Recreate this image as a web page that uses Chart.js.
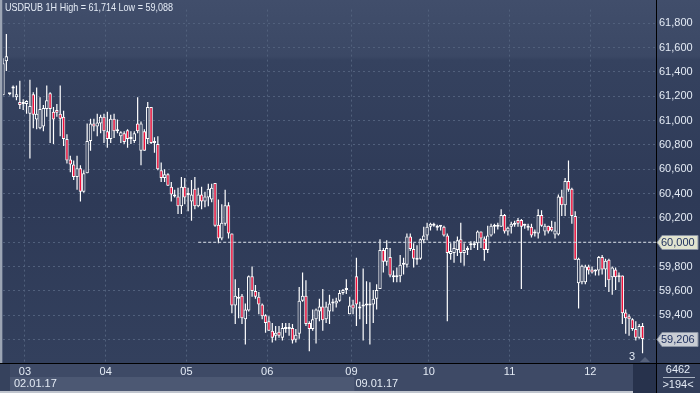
<!DOCTYPE html>
<html>
<head>
<meta charset="utf-8">
<title>USDRUB 1H</title>
<script src="https://cdn.jsdelivr.net/npm/chart.js@4.4.1/dist/chart.umd.min.js"></script>
<style>
  html, body { margin: 0; padding: 0; background: #2f3b58; }
  #wrap { width: 700px; height: 393px; }
</style>
</head>
<body>
<div id="wrap"><canvas id="chart" width="700" height="393"></canvas></div>
<script>
// USDRUB, 1 hour bars, 02.01.17 .. 12.01.17 (one entry per bar)
const opens = [
  61208, 61488, 61216, 61264, 61192, 61152, 61136,
  61136, 61056, 61216, 61008, 60936, 60952, 61096, 61224, 61072, 61088, 61056, 61032, 60848, 60680, 60640, 60536, 60608, 60416, 60568, 60832, 60976, 60952, 60976, 61032,
  60912, 60848, 61016, 60912, 60872, 60896, 60920, 60848, 60832, 60976, 60752, 60912, 60848, 61112, 60832, 60808, 60592, 60528, 60560, 60456, 60392, 60376, 60296, 60456,
  60392, 60336, 60440, 60296, 60392, 60336, 60368, 60352, 60488, 60144, 60032, 60152, 60304, 60072, 59480, 59536, 59560, 59368, 59440, 59720, 59600, 59552, 59488, 59400,
  59352, 59272, 59232, 59264, 59216, 59288, 59288, 59296, 59200, 59248, 59520, 59560, 59336, 59288, 59368, 59432, 59472, 59368, 59432, 59496, 59496, 59520, 59584, 59608,
  59408, 59488, 59720, 59456, 59472, 59480, 59496, 59488, 59536, 59616, 59936, 59840, 59880, 59728, 59712, 59720, 59816, 59816, 60048, 59944, 59856, 59864, 60016, 60056,
  60128, 60152, 60120, 60128, 60128, 60056, 59904, 59912, 59936, 60024, 59912, 59936, 59976, 59976, 59992, 60088, 60032, 59936, 60056, 60128, 60128, 60128, 60224, 60088,
  60128, 60144, 60184, 60184, 60136, 60136, 60128, 60072, 60072, 60224, 60088, 60136, 60128, 60064, 60064, 60376, 60304, 60504, 60440, 60216, 59664, 59672, 59672, 59800,
  59776, 59760, 59768, 59880, 59776, 59856, 59712, 59776, 59712, 59728, 59424, 59392, 59368, 59288, 59216, 59312
];
const highs = [
  61512, 61712, 61224, 61288, 61288, 61328, 61176,
  61168, 61336, 61232, 61272, 61192, 61128, 61288, 61232, 61112, 61136, 61288, 61080, 60888, 60712, 60672, 60712, 60632, 60592, 60976, 61016, 61016, 61056, 61048, 61056,
  61072, 61048, 61056, 61008, 60912, 60912, 60928, 60912, 60912, 61192, 60992, 60928, 61152, 61112, 60864, 60872, 60656, 60600, 60568, 60496, 60432, 60448, 60536, 60528,
  60448, 60512, 60536, 60448, 60456, 60416, 60480, 60480, 60488, 60352, 60312, 60432, 60328, 60072, 59696, 59624, 59576, 59496, 59728, 59800, 59648, 59592, 59496, 59408,
  59392, 59336, 59312, 59312, 59336, 59336, 59336, 59328, 59288, 59632, 59752, 59688, 59352, 59448, 59456, 59536, 59616, 59512, 59568, 59536, 59544, 59608, 59616, 59696,
  59552, 59528, 59872, 59512, 59784, 59680, 59672, 59608, 59656, 60024, 59952, 60016, 59952, 59768, 59792, 59896, 59872, 60072, 60072, 59992, 59976, 60032, 60128, 60160,
  60160, 60160, 60144, 60136, 60136, 60072, 59992, 60008, 60048, 60160, 59992, 59968, 60008, 60008, 60096, 60088, 60048, 60136, 60152, 60152, 60160, 60272, 60232, 60128,
  60168, 60176, 60200, 60192, 60152, 60152, 60152, 60104, 60272, 60264, 60152, 60136, 60176, 60168, 60392, 60432, 60528, 60672, 60448, 60256, 59872, 59816, 59816, 59816,
  59800, 59776, 59888, 59896, 59864, 59864, 59800, 59792, 59752, 59728, 59448, 59408, 59376, 59352, 59328, 59336
];
const lows = [
  61208, 61408, 61208, 61192, 61168, 61096, 61088,
  61056, 60688, 60936, 60928, 60928, 60912, 61032, 60816, 60808, 61032, 60872, 60792, 60648, 60576, 60512, 60432, 60336, 60408, 60568, 60752, 60912, 60872, 60896, 60816,
  60776, 60816, 60856, 60896, 60816, 60808, 60776, 60808, 60816, 60896, 60632, 60752, 60808, 60808, 60736, 60592, 60496, 60496, 60464, 60336, 60368, 60232, 60232, 60312,
  60256, 60176, 60272, 60288, 60272, 60288, 60296, 60328, 60128, 59992, 60016, 60136, 60032, 59416, 59328, 59376, 59328, 59160, 59432, 59552, 59536, 59408, 59368, 59256,
  59272, 59176, 59192, 59216, 59192, 59256, 59232, 59168, 59176, 59208, 59512, 59312, 59104, 59272, 59168, 59352, 59272, 59336, 59328, 59432, 59464, 59512, 59568, 59576,
  59408, 59408, 59312, 59368, 59192, 59328, 59160, 59336, 59448, 59616, 59752, 59808, 59712, 59672, 59672, 59672, 59736, 59792, 59928, 59792, 59816, 59856, 59992, 60016,
  60096, 60128, 60096, 60096, 60048, 59352, 59856, 59832, 59888, 59832, 59808, 59896, 59936, 59952, 59936, 59952, 59848, 59912, 60048, 60072, 60104, 60128, 60072, 60056,
  60072, 60128, 60128, 59616, 60112, 60096, 60040, 60048, 60032, 60128, 60056, 60072, 60088, 60032, 60056, 60216, 60216, 60416, 60152, 59856, 59456, 59656, 59656, 59736,
  59744, 59728, 59728, 59736, 59632, 59592, 59568, 59608, 59672, 59328, 59248, 59232, 59272, 59192, 59208, 59088
];
const closes = [
  61472, 61528, 61216, 61264, 61216, 61128, 61152,
  61160, 61120, 61048, 61056, 61096, 61104, 61168, 61096, 61008, 61064, 61016, 60848, 60672, 60640, 60536, 60608, 60416, 60568, 60832, 60976, 60952, 60984, 61032, 60912,
  60848, 61016, 60912, 60920, 60904, 60824, 60848, 60852, 60896, 60912, 60976, 60752, 61112, 60816, 60816, 60600, 60528, 60560, 60464, 60392, 60376, 60296, 60456, 60368,
  60388, 60392, 60296, 60392, 60336, 60376, 60440, 60448, 60136, 60032, 60160, 60304, 60072, 59480, 59560, 59544, 59376, 59448, 59720, 59600, 59552, 59488, 59392, 59336,
  59272, 59216, 59256, 59232, 59296, 59292, 59304, 59192, 59240, 59520, 59560, 59328, 59288, 59368, 59448, 59472, 59360, 59472, 59496, 59512, 59520, 59584, 59608, 59616,
  59480, 59456, 59488, 59472, 59488, 59496, 59480, 59536, 59608, 59936, 59840, 59952, 59728, 59712, 59728, 59816, 59824, 60048, 59944, 59864, 59864, 60024, 60056, 60128,
  60152, 60136, 60136, 60130, 60056, 59912, 59928, 59952, 60016, 59912, 59936, 59952, 59984, 59992, 60088, 60032, 59936, 60056, 60136, 60136, 60132, 60224, 60088, 60120,
  60152, 60160, 60152, 60128, 60138, 60120, 60056, 60088, 60224, 60136, 60136, 60088, 60096, 60096, 60376, 60304, 60504, 60432, 60216, 59856, 59864, 59808, 59800, 59768,
  59752, 59768, 59880, 59776, 59848, 59688, 59792, 59712, 59728, 59416, 59376, 59368, 59288, 59216, 59312, 59206
];

// day separators: label and index of the first bar of that day
const dayLabels = ["03", "04", "05", "06", "09", "10", "11", "12"];
const dayStarts = [7, 31, 55, 79, 104, 127, 151, 175];
const weekLabels = ["02.01.17", "09.01.17"];
const weekStarts = [0, 104];

const levelValue = 60000;   // horizontal level line
const levelFrom = 58;
const lastPrice = 59206;
const titleText = "USDRUB 1H High = 61,714 Low = 59,088";
const totalBars = "6462";
const visibleBars = ">194<";
const shiftMark = "3";

const xMin = 0, xMax = 194;
const yMin = 59008, yMax = 61912, yStep = 200;

const RED = "#f20f3a";
const HOLLOW = "#2f3b58";
const WHITE = "#ffffff";
const TXT = "#e4ebf5";
const FONT = "'Liberation Sans', Arial, sans-serif";

Chart.defaults.font.family = FONT;
Chart.defaults.font.size = 11;
Chart.defaults.color = TXT;

const fmt = v => v.toLocaleString("en-US");

const bodies = opens.map((o, i) => ({ x: i, y: [o, closes[i]] }));
const wicks = lows.map((l, i) => ({ x: i, y: [l, highs[i]] }));

// backgrounds, frame, tags and captions
const frame = {
  id: "frame",
  beforeDraw(chart) {
    const { ctx, chartArea: a, scales: { x } } = chart;
    const W = chart.width, H = chart.height;
    ctx.save();
    const g = ctx.createLinearGradient(0, 0, 0, a.bottom);
    g.addColorStop(0, "#414e6b");
    g.addColorStop(0.155, "#3b4865");
    g.addColorStop(0.165, "#35425f");
    g.addColorStop(0.55, "#2e3a57");
    g.addColorStop(1, "#33405d");
    ctx.fillStyle = g;
    ctx.fillRect(0, 0, W, a.bottom);

    ctx.fillStyle = "#9ca5b4";
    ctx.fillRect(0, 0, 2, a.bottom);
    ctx.fillStyle = "#56627c";
    ctx.fillRect(2, 0, 1, a.bottom);

    // time scale panel
    ctx.fillStyle = "#3e4a66";
    ctx.fillRect(0, a.bottom, W, H - a.bottom);
    const wk = x.getPixelForValue(weekStarts[1] - 0.5);
    ctx.fillStyle = "#4c5873";
    ctx.fillRect(10, 377, wk - 10 + 3, 14);
    ctx.fillStyle = "#36425d";
    ctx.fillRect(0, a.bottom, 10, H - a.bottom);
    ctx.fillStyle = "#c0c5ce";
    ctx.fillRect(0, 391, a.right, 2);
    ctx.fillStyle = "#27324c";
    ctx.fillRect(633, a.bottom, a.right - 633, H - a.bottom);
    ctx.fillStyle = "#323e5a";
    ctx.fillRect(a.right, a.bottom, W - a.right, H - a.bottom);
    ctx.restore();
  },
  afterDraw(chart) {
    const { ctx, chartArea: a, scales: { x, y } } = chart;
    const W = chart.width, H = chart.height;
    ctx.save();
    ctx.strokeStyle = "#000";
    ctx.lineWidth = 1;
    ctx.beginPath();
    ctx.moveTo(a.right + 0.5, 0); ctx.lineTo(a.right + 0.5, H);
    ctx.moveTo(0, a.bottom + 0.5); ctx.lineTo(W, a.bottom + 0.5);
    ctx.stroke();

    ctx.font = "11px " + FONT;
    ctx.textBaseline = "middle";
    ctx.textAlign = "left";
    ctx.fillStyle = TXT;
    ctx.fillText(titleText, 5, 8, 168);

    // price tags on the value axis
    const tag = (v, text, fill) => {
      const py = Math.round(y.getPixelForValue(v)) + 0.5;
      ctx.beginPath();
      ctx.moveTo(a.right + 1, py);
      ctx.lineTo(a.right + 6, py - 7);
      ctx.lineTo(698, py - 7);
      ctx.lineTo(698, py + 7);
      ctx.lineTo(a.right + 6, py + 7);
      ctx.closePath();
      ctx.fillStyle = fill;
      ctx.fill();
      ctx.strokeStyle = "#8a93a4";
      ctx.stroke();
      ctx.fillStyle = "#1c2d5c";
      ctx.fillText(text, a.right + 5, py + 0.5);
    };
    tag(levelValue, fmt(levelValue), "#e1e4d0");
    tag(lastPrice, fmt(lastPrice), "#c9cdd4");

    // shift marker
    ctx.fillStyle = TXT;
    ctx.fillText(shiftMark, 629, 357);
    ctx.fillStyle = "#56627c";
    ctx.beginPath();
    ctx.moveTo(640, 362); ctx.lineTo(645, 357); ctx.lineTo(650, 362);
    ctx.closePath();
    ctx.fill();

    // week captions
    ctx.fillStyle = TXT;
    weekLabels.forEach((t, k) => {
      const px = Math.max(10, x.getPixelForValue(weekStarts[k] - 0.5));
      ctx.fillText(t, px + 4, 384);
    });

    // bar counters
    ctx.textAlign = "center";
    const cx = (a.right + W) / 2;
    ctx.fillText(totalBars, cx, 370);
    ctx.fillText(visibleBars, cx, 385);
    ctx.strokeStyle = "#a9b2c1";
    ctx.beginPath();
    ctx.moveTo(a.right + 7, 377.5); ctx.lineTo(W - 5, 377.5);
    ctx.stroke();
    ctx.restore();
  }
};

new Chart(document.getElementById("chart"), {
  type: "bar",
  data: {
    datasets: [
      {
        type: "line",
        data: [{ x: levelFrom, y: levelValue }, { x: xMax, y: levelValue }],
        borderColor: "#d9dde6",
        borderWidth: 1,
        borderDash: [3, 2],
        pointRadius: 0,
        order: 0
      },
      {
        data: bodies,
        grouped: false,
        barThickness: 3.4,
        minBarLength: 2,
        borderWidth: 1,
        borderColor: WHITE,
        borderSkipped: false,
        inflateAmount: 0,
        backgroundColor: c => closes[c.dataIndex] < opens[c.dataIndex] ? RED : HOLLOW,
        order: 1
      },
      {
        data: wicks,
        grouped: false,
        barThickness: 1.2,
        borderWidth: 0,
        inflateAmount: 0,
        backgroundColor: WHITE,
        order: 2
      }
    ]
  },
  options: {
    responsive: false,
    animation: false,
    events: [],
    layout: { padding: { left: 3, top: 0, right: 0, bottom: 0 } },
    plugins: {
      legend: { display: false },
      tooltip: { enabled: false }
    },
    scales: {
      x: {
        type: "linear",
        min: xMin,
        max: xMax,
        offset: false,
        grid: { color: "#51607c", drawTicks: false, offset: false },
        border: { display: false, dash: [2, 3] },
        afterBuildTicks: s => { s.ticks = dayStarts.map(d => ({ value: d - 0.5 })); },
        afterFit: s => { s.height = 30; },
        ticks: {
          padding: 2,
          color: TXT,
          autoSkip: false,
          maxRotation: 0,
          callback: (v, i) => dayLabels[i]
        }
      },
      y: {
        position: "right",
        min: yMin,
        max: yMax,
        grid: { color: "#51607c", drawTicks: false },
        border: { display: false, dash: [2, 3] },
        afterFit: s => { s.width = 44; },
        ticks: {
          stepSize: yStep,
          includeBounds: false,
          padding: 3,
          color: TXT,
          callback: v => fmt(v)
        }
      }
    }
  },
  plugins: [frame]
});
</script>
</body>
</html>
